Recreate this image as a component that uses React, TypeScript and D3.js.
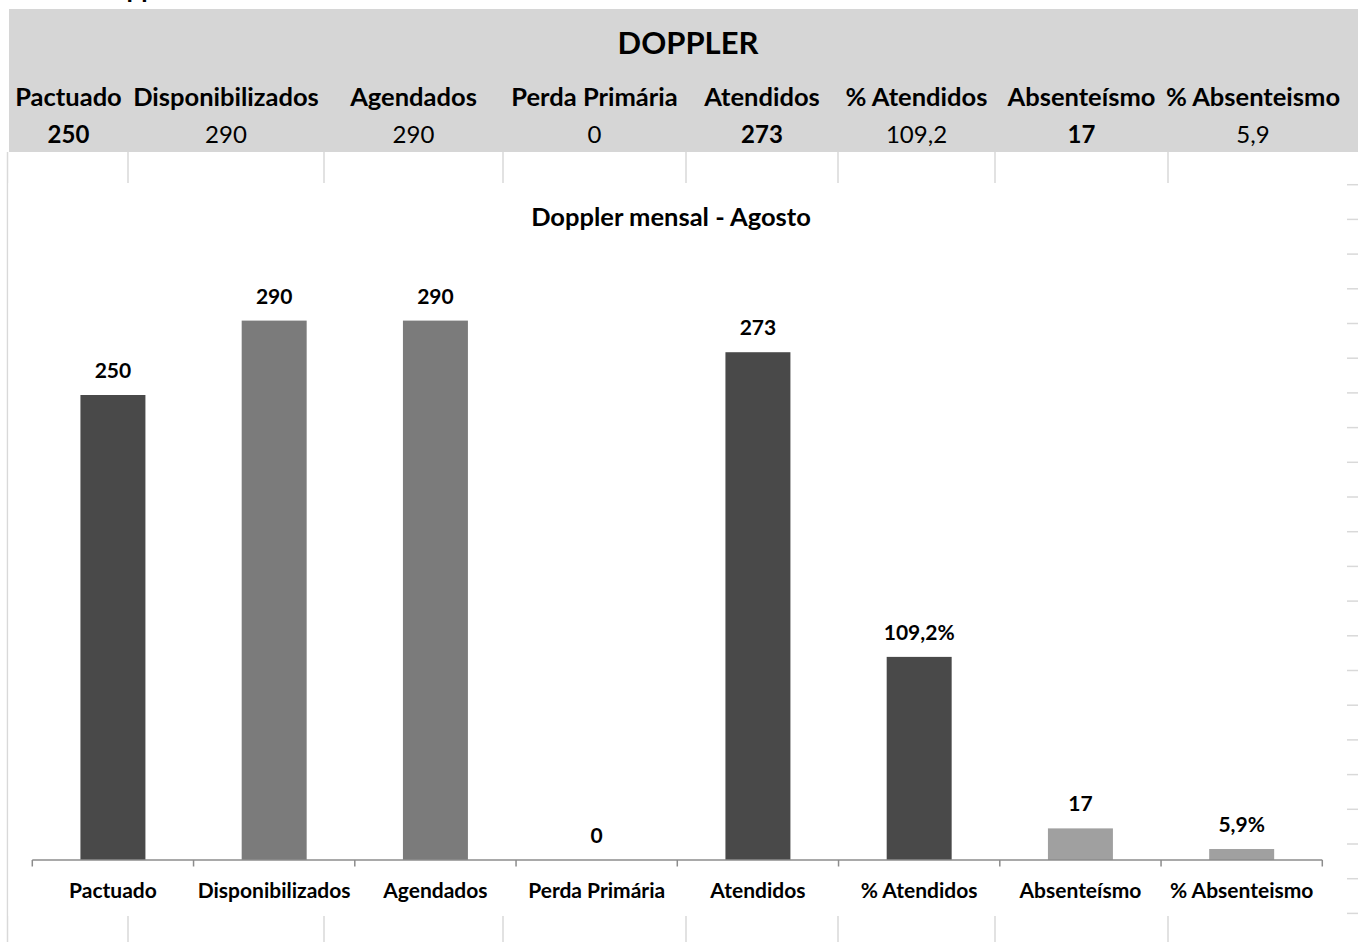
import React from "react";
import * as d3 from "d3";

// ---- Data ----
const categories = [
  "Pactuado",
  "Disponibilizados",
  "Agendados",
  "Perda Primária",
  "Atendidos",
  "% Atendidos",
  "Absenteísmo",
  "% Absenteismo",
];
const values = [250, 290, 290, 0, 273, 109.2, 17, 5.9];
const barLabels = ["250", "290", "290", "0", "273", "109,2%", "17", "5,9%"];
const barGroup = ["meta", "oferta", "oferta", "perda", "meta", "meta", "falta", "falta"];

const headerTitle = "DOPPLER";
const headerLabels = [
  "Pactuado",
  "Disponibilizados",
  "Agendados",
  "Perda Primária",
  "Atendidos",
  "% Atendidos",
  "Absenteísmo",
  "% Absenteismo",
];
const headerValues = ["250", "290", "290", "0", "273", "109,2", "17", "5,9"];
const headerBold = [true, false, false, false, true, false, true, false];

const chartTitle = "Doppler mensal - Agosto";

// ---- Styles / layout ----
const W = 1358;
const H = 942;
const FONT = "Lato, 'Open Sans', sans-serif";
const groupColor: Record<string, string> = {
  meta: "#494949",
  oferta: "#7b7b7b",
  perda: "#7b7b7b",
  falta: "#a0a0a0",
};
const colEdges = [9, 128, 324, 503, 686, 838, 995, 1168, 1338];
const gridColor = "#d9d9d9";

export default function App() {
  const x = d3
    .scaleBand<string>()
    .domain(categories)
    .range([32.3, 1322.3])
    .paddingInner(0)
    .paddingOuter(0);
  const y = d3.scaleLinear().domain([0, 350]).range([860, 209]);
  const barW = x.bandwidth() * 0.403;
  const tickXs = categories.map((c) => x(c)!).concat([x.range()[1]]);
  const rowLines = d3.range(0, 22).map((k) => 184.7 + k * 34.7);

  return (
    <svg
      width={W}
      height={H}
      style={{ position: "absolute", left: 0, top: 0, background: "#fff" }}
      fontFamily={FONT}
    >
      {/* sheet title above, cut off by the top edge as in the original */}
      <text x={92} y={-2} fontSize={26} fontWeight={700} fill="#000">
        Doppler
      </text>

      {/* header block */}
      <rect x={9} y={9} width={W - 9} height={143} fill="#d6d6d6" />
      <text x={688} y={54} textAnchor="middle" fontSize={31} fontWeight={700} fill="#000">
        {headerTitle}
      </text>
      {headerLabels.map((l, i) => (
        <text
          key={"hl" + i}
          x={(colEdges[i] + colEdges[i + 1]) / 2}
          y={106}
          textAnchor="middle"
          fontSize={25.5}
          fontWeight={700}
          fill="#000"
        >
          {l}
        </text>
      ))}
      {headerValues.map((v, i) => (
        <text
          key={"hv" + i}
          x={(colEdges[i] + colEdges[i + 1]) / 2}
          y={143}
          textAnchor="middle"
          fontSize={24}
          fontWeight={headerBold[i] ? 700 : 400}
          fill="#000"
        >
          {v}
        </text>
      ))}

      {/* sheet cell grid lines visible around chart */}
      <line x1={7.5} x2={7.5} y1={152} y2={H} stroke={gridColor} strokeWidth={1.5} />
      {colEdges.slice(1, 8).map((cx, i) => (
        <g key={"cg" + i}>
          <line x1={cx} x2={cx} y1={152} y2={183} stroke={gridColor} strokeWidth={1.5} />
          <line x1={cx} x2={cx} y1={916} y2={H} stroke={gridColor} strokeWidth={1.5} />
        </g>
      ))}
      {rowLines.map((ry, i) => (
        <line key={"rl" + i} x1={1347} x2={W} y1={ry} y2={ry} stroke={gridColor} strokeWidth={1.5} />
      ))}

      {/* chart area */}
      <rect x={8.5} y={183} width={1338} height={733} fill="#fff" />
      <text x={671} y={226} textAnchor="middle" fontSize={25.5} fontWeight={700} fill="#000">
        {chartTitle}
      </text>

      {/* bars */}
      {categories.map((c, i) => {
        const cx = x(c)! + x.bandwidth() / 2;
        const top = y(values[i]);
        return (
          <g key={"b" + i}>
            {values[i] > 0 && (
              <rect
                x={cx - barW / 2}
                y={top}
                width={barW}
                height={y(0) - top}
                fill={groupColor[barGroup[i]]}
              />
            )}
            <text
              x={cx}
              y={top - 17}
              textAnchor="middle"
              fontSize={21}
              fontWeight={700}
              fill="#000"
            >
              {barLabels[i]}
            </text>
            <text
              x={cx}
              y={898}
              textAnchor="middle"
              fontSize={21}
              fontWeight={700}
              fill="#000"
            >
              {c}
            </text>
          </g>
        );
      })}

      {/* axis */}
      <line x1={x.range()[0]} x2={x.range()[1]} y1={860} y2={860} stroke="#8c8c8c" strokeWidth={1.5} />
      {tickXs.map((tx, i) => (
        <line key={"t" + i} x1={tx} x2={tx} y1={860} y2={866.5} stroke="#8c8c8c" strokeWidth={1.5} />
      ))}
    </svg>
  );
}
